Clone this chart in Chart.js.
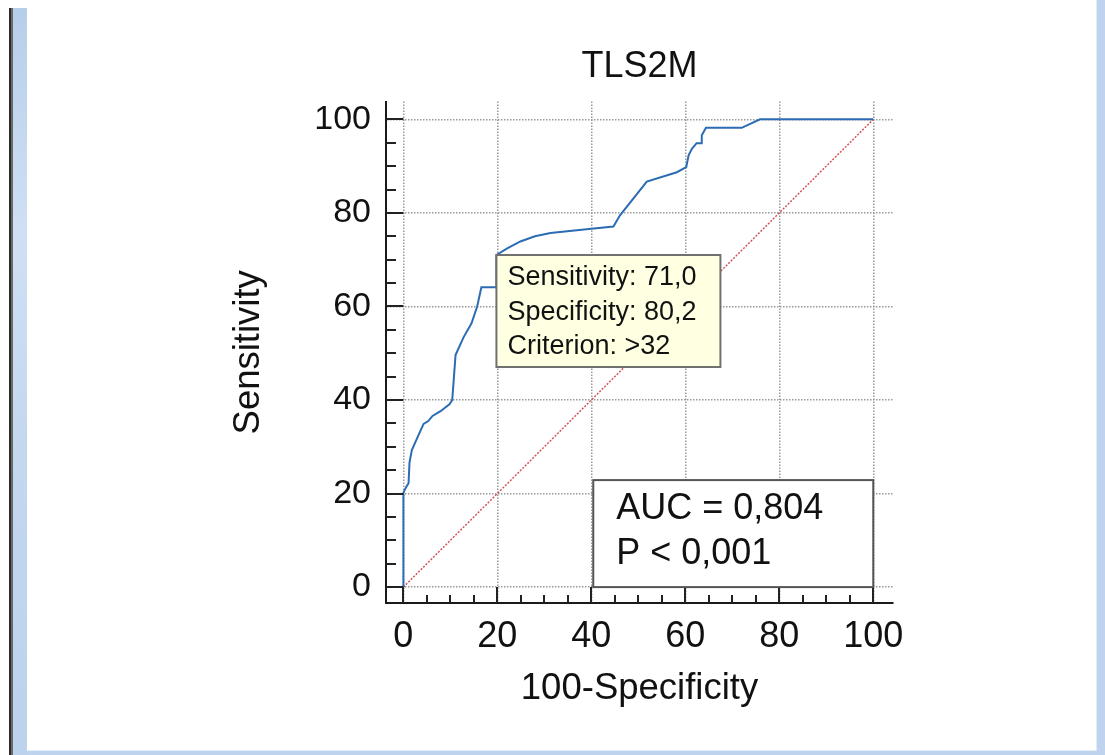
<!DOCTYPE html>
<html>
<head>
<meta charset="utf-8">
<script src="https://cdn.jsdelivr.net/npm/chart.js@4.4.1/dist/chart.umd.min.js"></script>
<style>
  html, body { margin: 0; padding: 0; background: #fff; }
  #wrap { position: relative; width: 1105px; height: 755px; overflow: hidden; }
  canvas { position: absolute; left: 0; top: 0; }
  .edge { position: absolute; }
</style>
</head>
<body>
<div id="wrap">
  <canvas id="roc" width="1105" height="755"></canvas>
  <div class="edge" style="left:9px;top:8px;width:2px;height:747px;background:#2b2b2b"></div>
  <div class="edge" style="left:11px;top:8px;width:2px;height:747px;background:#6a6a6a"></div>
  <div class="edge" style="left:13px;top:8px;width:14px;height:747px;background:linear-gradient(#b7ceea,#cfe0f4 30%,#c3d7ef 60%,#bcd2ed)"></div>
  <div class="edge" style="left:1096px;top:0;width:1px;height:751px;background:#e3ecf7"></div>
  <div class="edge" style="left:1097px;top:0;width:8px;height:755px;background:#bdd3ee"></div>
  <div class="edge" style="left:27px;top:750px;width:1070px;height:1px;background:#e3ecf7"></div>
  <div class="edge" style="left:27px;top:751px;width:1078px;height:4px;background:#bdd3ee"></div>
</div>
<script>
// ROC curve (100-Specificity, Sensitivity)
const rocX = [0, 0, 0.6, 1.1, 1.3, 1.8, 3.0, 4.3, 5.3, 6.2, 7.9, 9.8, 10.4, 11.1, 12.8, 14.5, 15.7, 16.6, 19.8, 19.8,
              22.1, 24.9, 28.0, 31.3, 40.0, 44.7, 46.1, 51.8, 58.2, 60.2, 60.7, 61.4, 62.4, 63.5, 63.5, 64.4, 72.0, 75.9, 100];
const rocY = [0, 20.2, 21.4, 22.2, 26.6, 29.3, 32.0, 34.9, 35.5, 36.6, 37.6, 39.1, 40.0, 49.6, 53.4, 56.4, 60.0, 64.1, 64.1, 71.0,
              72.4, 73.9, 75.0, 75.7, 76.6, 77.1, 79.5, 86.7, 88.7, 89.8, 92.3, 93.7, 94.9, 94.9, 96.6, 98.2, 98.2, 100, 100];
const diagX = [0, 100];
const diagY = [0, 100];
const xTicks = [0, 20, 40, 60, 80, 100];
const yTicks = [0, 20, 40, 60, 80, 100];
const critPoint = [19.8, 71.0];
const tipLines = ['Sensitivity: 71,0', 'Specificity: 80,2', 'Criterion: >32'];
const aucLines = ['AUC = 0,804', 'P < 0,001'];

const FONT = "'Liberation Sans', Arial, sans-serif";
Chart.defaults.font.family = FONT;
Chart.defaults.color = '#111';

const toPoints = (xs, ys) => xs.map((v, i) => ({ x: v, y: ys[i] }));

// inward ticks + the two text boxes
const extras = {
  id: 'extras',
  afterDatasetsDraw(chart) {
    const { ctx, chartArea, scales: { x, y } } = chart;
    ctx.save();

    const x0 = x.getPixelForValue(0), y0 = y.getPixelForValue(0);
    ctx.strokeStyle = '#222';
    ctx.lineWidth = 2;
    ctx.beginPath();
    for (let v = 0; v <= 100; v += 5) {
      const major = v % 20 === 0;
      const py = Math.round(y.getPixelForValue(v));
      ctx.moveTo(chartArea.left, py);
      ctx.lineTo(major ? x0 : chartArea.left + 10, py);
      const px = Math.round(x.getPixelForValue(v));
      ctx.moveTo(px, chartArea.bottom);
      ctx.lineTo(px, major ? y0 : chartArea.bottom - 8);
    }
    ctx.stroke();

    // criterion box, anchored at the selected point
    const tl = x.getPixelForValue(critPoint[0]);
    const tt = y.getPixelForValue(critPoint[1]);
    ctx.fillStyle = '#ffffe1';
    ctx.fillRect(tl, tt, 224, 112);
    ctx.strokeStyle = '#707070';
    ctx.strokeRect(tl, tt, 224, 112);
    ctx.fillStyle = '#111';
    ctx.font = '27px ' + FONT;
    ctx.textBaseline = 'middle';
    ctx.textAlign = 'left';
    tipLines.forEach((t, i) => ctx.fillText(t, tl + 11, tt + 23 + i * 34.5));

    // AUC box in the bottom right corner
    const ar = x.getPixelForValue(100), ab = y.getPixelForValue(0);
    ctx.fillStyle = '#fff';
    ctx.fillRect(ar - 280, ab - 107, 280, 107);
    ctx.strokeStyle = '#555';
    ctx.strokeRect(ar - 280, ab - 107, 280, 107);
    ctx.fillStyle = '#111';
    ctx.font = '36px ' + FONT;
    aucLines.forEach((t, i) => ctx.fillText(t, ar - 280 + 23, ab - 107 + 29 + i * 45));

    ctx.restore();
  }
};

const gridOpts = { color: '#9a9a9a', lineWidth: 1.5, drawTicks: false };
const borderOpts = { display: true, color: '#1a1a1a', width: 2, dash: [1.5, 1.5] };

new Chart(document.getElementById('roc'), {
  type: 'scatter',
  data: {
    datasets: [
      {
        data: toPoints(rocX, rocY),
        showLine: true,
        borderColor: '#2c6cb3',
        borderWidth: 2,
        pointRadius: 0,
        tension: 0
      },
      {
        data: toPoints(diagX, diagY),
        showLine: true,
        borderColor: '#d25555',
        borderWidth: 1.5,
        borderDash: [2, 1.5],
        pointRadius: 0
      }
    ]
  },
  plugins: [extras],
  options: {
    responsive: false,
    animation: false,
    devicePixelRatio: 1,
    layout: { padding: { left: 227, right: 212, top: 0, bottom: 44 } },
    plugins: {
      legend: { display: false },
      tooltip: { enabled: false },
      title: {
        display: true,
        text: 'TLS2M',
        fullSize: false,
        font: { size: 36, weight: 'normal' },
        color: '#111',
        padding: { top: 45, bottom: 13.4 }
      }
    },
    scales: {
      x: {
        type: 'linear',
        min: -3.7,
        max: 104.2,
        afterBuildTicks: s => { s.ticks = xTicks.map(v => ({ value: v })); },
        afterFit: s => { s.height = 108; },
        ticks: { font: { size: 36 }, color: '#111', padding: 12, maxRotation: 0, autoSkip: false },
        title: { display: true, text: '100-Specificity', font: { size: 36.5 }, color: '#111', padding: 0 },
        grid: gridOpts,
        border: borderOpts
      },
      y: {
        type: 'linear',
        min: -3.4,
        max: 103.8,
        afterBuildTicks: s => { s.ticks = yTicks.map(v => ({ value: v })); },
        afterFit: s => { s.width = 159; },
        ticks: { font: { size: 34 }, color: '#111', padding: 15, autoSkip: false },
        title: { display: true, text: 'Sensitivity', font: { size: 36.5 }, color: '#111', padding: 0 },
        grid: gridOpts,
        border: borderOpts
      }
    }
  }
});
</script>
</body>
</html>
